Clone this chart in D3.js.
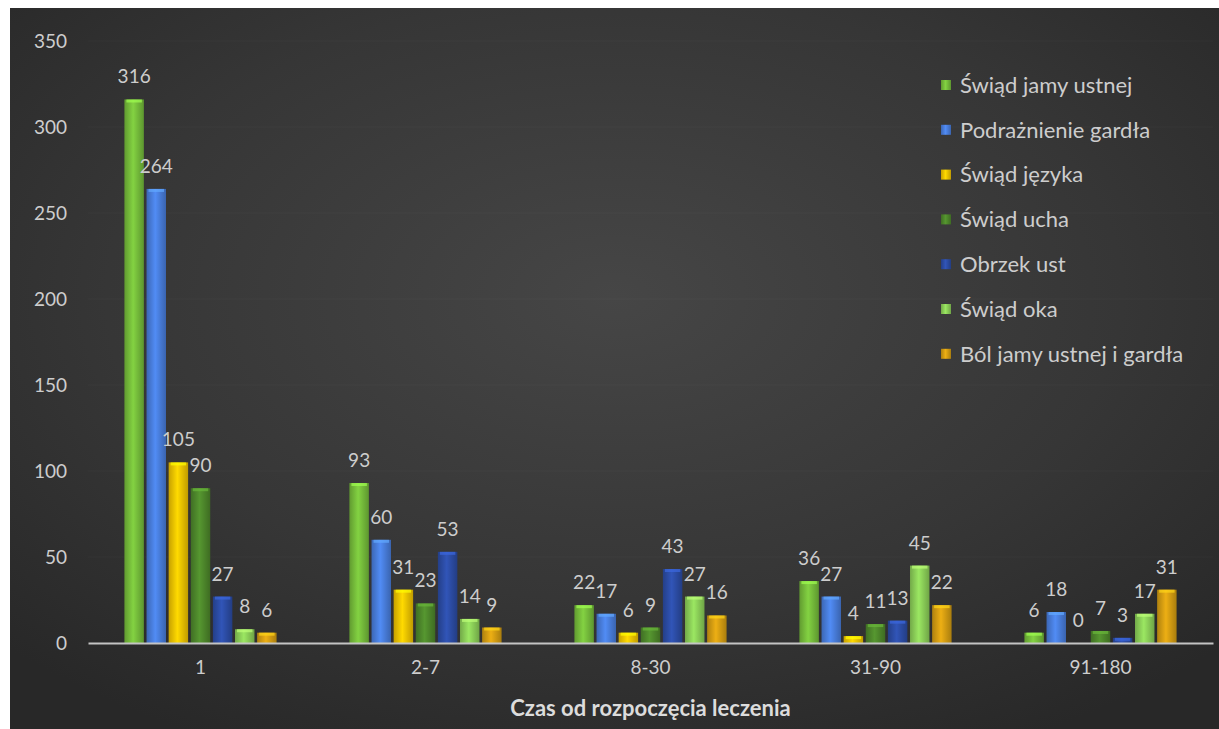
<!DOCTYPE html>
<html>
<head>
<meta charset="utf-8">
<script src="https://cdn.jsdelivr.net/npm/d3@7"></script>
<style>
  html, body { margin: 0; padding: 0; background: #ffffff; }
  svg { display: block; }
</style>
</head>
<body>
<svg id="chart" width="1219" height="729"></svg>
<script>
// Czas od rozpoczęcia leczenia (dni) — liczba zgłoszonych działań niepożądanych
const categories = ["1", "2-7", "8-30", "31-90", "91-180"];
const seriesNames = [
  "Świąd jamy ustnej",
  "Podrażnienie gardła",
  "Świąd języka",
  "Świąd ucha",
  "Obrzek ust",
  "Świąd oka",
  "Ból jamy ustnej i gardła"
];
const swiadJamyUstnej     = [316, 93, 22, 36, 6];
const podraznienieGardla  = [264, 60, 17, 27, 18];
const swiadJezyka         = [105, 31, 6, 4, 0];
const swiadUcha           = [90, 23, 9, 11, 7];
const obrzekUst           = [27, 53, 43, 13, 3];
const swiadOka            = [8, 14, 27, 45, 17];
const bolJamyUstnejGardla = [6, 9, 16, 22, 31];
const seriesValues = [swiadJamyUstnej, podraznienieGardla, swiadJezyka, swiadUcha, obrzekUst, swiadOka, bolJamyUstnejGardla];
const yTicks = [0, 50, 100, 150, 200, 250, 300, 350];
const axisTitle = "Czas od rozpoczęcia leczenia";

const colors = ["#78c03c", "#4a80e0", "#f7c700", "#4f8a2c", "#2d4ea8", "#8ed35a", "#d9a012"];

const svg = d3.select("#chart");
const W = 1219, H = 729;
const defs = svg.append("defs");

// Dark panel with soft radial lighting
const bg = defs.append("radialGradient").attr("id", "bg")
  .attr("cx", "0.5").attr("cy", "0.4").attr("r", "0.7");
bg.append("stop").attr("offset", "0").attr("stop-color", "#464646");
bg.append("stop").attr("offset", "0.6").attr("stop-color", "#363636");
bg.append("stop").attr("offset", "1").attr("stop-color", "#282828");

svg.append("rect").attr("x", 0).attr("y", 0).attr("width", W).attr("height", H).attr("fill", "#ffffff");
svg.append("rect").attr("x", 10).attr("y", 8).attr("width", W - 10).attr("height", H - 8).attr("fill", "url(#bg)");

// Cylindrical shading for each series colour
colors.forEach((c, i) => {
  const g = defs.append("linearGradient").attr("id", "bar" + i)
    .attr("x1", "0").attr("x2", "1").attr("y1", "0").attr("y2", "0");
  const base = d3.color(c);
  g.append("stop").attr("offset", "0").attr("stop-color", base.darker(0.6));
  g.append("stop").attr("offset", "0.45").attr("stop-color", base.brighter(0.25));
  g.append("stop").attr("offset", "1").attr("stop-color", base.darker(0.7));
});

const x0 = d3.scaleBand().domain(categories).range([88, 1213]).paddingInner(0.3).paddingOuter(0.15);
const x1 = d3.scaleBand().domain(d3.range(seriesNames.length)).range([0, x0.bandwidth()]).padding(0.12);
const y = d3.scaleLinear().domain([0, 350]).range([643, 41]);

const font = "Lato, 'Open Sans', 'DejaVu Sans', sans-serif";
const textColor = "#cdcdcd";

// Faint horizontal guides
svg.append("g").selectAll("line").data(yTicks.filter(t => t > 0)).join("line")
  .attr("x1", 88).attr("x2", 1213)
  .attr("y1", d => y(d)).attr("y2", d => y(d))
  .attr("stroke", "#ffffff").attr("stroke-opacity", 0.025).attr("stroke-width", 1);

// Y axis labels
const yAxis = d3.axisLeft(y).tickValues(yTicks).tickSize(0).tickPadding(0);
const yG = svg.append("g").attr("transform", "translate(67,0)").call(yAxis);
yG.select(".domain").remove();
yG.selectAll("text").attr("fill", textColor).attr("font-family", font).attr("font-size", 19)
  .attr("dy", "0.35em");

// Bars
const groups = svg.append("g").selectAll("g").data(categories).join("g")
  .attr("transform", d => `translate(${x0(d)},0)`);

groups.each(function (cat, ci) {
  const g = d3.select(this);
  const vals = seriesValues.map((s, si) => ({ si, v: s[ci] }));
  g.selectAll("rect.bar").data(vals).join("rect").attr("class", "bar")
    .attr("x", d => x1(d.si)).attr("width", x1.bandwidth())
    .attr("y", d => y(d.v)).attr("height", d => y(0) - y(d.v))
    .attr("fill", d => `url(#bar${d.si})`);
  // lighter cap on top of each bar
  g.selectAll("rect.cap").data(vals.filter(d => d.v > 0)).join("rect").attr("class", "cap")
    .attr("x", d => x1(d.si) + 2).attr("width", x1.bandwidth() - 4)
    .attr("y", d => y(d.v)).attr("height", d => Math.min(3, y(0) - y(d.v)))
    .attr("fill", d => d3.color(colors[d.si]).brighter(0.8)).attr("opacity", 0.7);
  g.selectAll("text").data(vals).join("text")
    .attr("x", d => x1(d.si) + x1.bandwidth() / 2)
    .attr("y", d => y(d.v) - 16)
    .attr("text-anchor", "middle")
    .attr("fill", textColor).attr("font-family", font).attr("font-size", 19)
    .text(d => d.v);
});

// X axis
const xAxis = d3.axisBottom(x0).tickSize(0).tickPadding(18);
const xG = svg.append("g").attr("transform", `translate(0,${y(0)})`).call(xAxis);
xG.select(".domain").attr("stroke", "#c4c4c4").attr("stroke-width", 2);
xG.selectAll("text").attr("fill", textColor).attr("font-family", font).attr("font-size", 19);

svg.append("text").attr("x", (88 + 1213) / 2).attr("y", 716)
  .attr("text-anchor", "middle").attr("fill", "#dcdcdc")
  .attr("font-family", font).attr("font-size", 22).attr("font-weight", "bold")
  .text(axisTitle);

// Legend
const legend = svg.append("g").attr("transform", "translate(941,85)");
const items = legend.selectAll("g").data(seriesNames).join("g")
  .attr("transform", (d, i) => `translate(0,${i * 44.8})`);
items.append("rect").attr("x", 0).attr("y", -5).attr("width", 10).attr("height", 10)
  .attr("fill", (d, i) => `url(#bar${i})`);
items.append("text").attr("x", 19).attr("y", 0).attr("dy", "0.35em")
  .attr("fill", textColor).attr("font-family", font).attr("font-size", 22)
  .text(d => d);
</script>
</body>
</html>
